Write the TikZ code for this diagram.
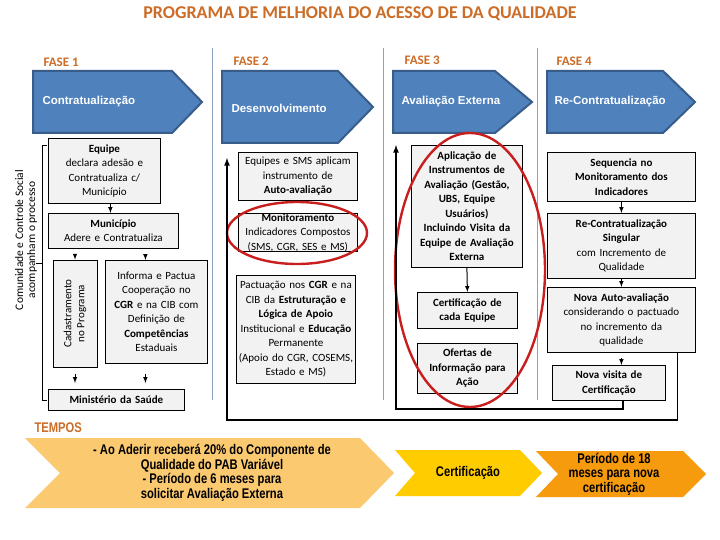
\documentclass[tikz,border=0pt]{standalone}
\usepackage{fontspec}
\setmainfont{Carlito}
\newfontfamily\arialf{Liberation Sans}
\newfontfamily\narrowf{Liberation Sans}[FakeStretch=0.8]

\definecolor{laranja}{RGB}{204,108,38}
\definecolor{azulfase}{RGB}{79,129,189}
\definecolor{azulborda}{RGB}{56,93,138}
\definecolor{cinza}{RGB}{242,242,242}
\definecolor{divisa}{RGB}{140,162,192}
\definecolor{vermelho}{RGB}{200,30,30}
\definecolor{tempoA}{RGB}{250,201,112}
\definecolor{tempoB}{RGB}{255,204,0}
\definecolor{tempoC}{RGB}{247,155,14}

\tikzset{
  caixa/.style 2 args={draw=black, fill=cinza, line width=0.8pt, anchor=north west,
    align=center, inner sep=0pt, minimum width=#1pt, minimum height=#2pt, text width=#1pt,
    font=\fontsize{11}{14.5}\selectfont},
  seta/.style={-latex, line width=1pt},
  laco/.style={-latex, line width=1.6pt},
  chevron/.style={fill=azulfase, draw=azulborda, line width=2pt, line join=miter},
  fasetxt/.style={anchor=west, text=white, font=\arialf\bfseries\fontsize{11.5}{13}\selectfont},
  rotulo/.style={anchor=west, text=laranja, font=\bfseries\fontsize{13}{15}\selectfont},
  elipse/.style={draw=vermelho, line width=2.4pt},
  tempotxt/.style={align=center, font=\narrowf\bfseries\fontsize{14}{14.5}\selectfont},
}

\begin{document}
\begin{tikzpicture}[x=1pt, y=-1pt]
\useasboundingbox[fill=white] (0,0) rectangle (720,540);
% titulo
\node[text=laranja, font=\bfseries\fontsize{18}{20}\selectfont] (tit) at (360,14) {PROGRAMA DE MELHORIA DO ACESSO DE DA QUALIDADE};
% divisas
\draw[divisa, line width=0.8pt] (212,48) -- (212,400);
\draw[divisa, line width=0.8pt] (383,48) -- (383,400);
\draw[divisa, line width=0.8pt] (537,48) -- (537,400);
% fases
\node[rotulo] (r1) at (40,62) {FASE 1};
\node[rotulo] (r2) at (230,61) {FASE 2};
\node[rotulo] (r3) at (401,60) {FASE 3};
\node[rotulo] (r4) at (553,61) {FASE 4};
\draw[chevron] (33,71) -- (172,71) -- (202,102) -- (172,133) -- (33,133) -- cycle;
\draw[chevron] (222,71) -- (338,71) -- (373,107) -- (338,143) -- (222,143) -- cycle;
\draw[chevron] (393,71) -- (495,71) -- (532,102) -- (495,133) -- (393,133) -- cycle;
\draw[chevron] (547,71) -- (663,71) -- (695,102) -- (663,133) -- (547,133) -- cycle;
\node[fasetxt] (f1) at (39,102) {Contratualização};
\node[fasetxt] (f2) at (228,108) {Desenvolvimento};
\node[fasetxt] (f3) at (398,102) {Avaliação Externa};
\node[fasetxt] (f4) at (551,102) {Re-Contratualização};
% fase 1
\draw[line width=0.8pt] (47,145) -- (42,145) -- (42,400) -- (47,400);
\draw[line width=0.8pt] (42,263) -- (36,263);
\node[rotate=90, align=center, font=\fontsize{11.5}{12}\selectfont] (soc) at (26,240) {Comunidade e Controle Social\\acompanham o processo};
\node[caixa={112}{65}] (eqp) at (48,138) {\textbf{Equipe}\\declara adesão e\\Contratualiza c/\\Município};
\node[caixa={130}{35}] (mun) at (48,213) {\textbf{Município}\\Adere e Contratualiza};
\node[caixa={102}{103}] (inf) at (105,260) {Informa e Pactua\\Cooperação no\\\textbf{CGR} e na CIB com\\Definição de\\\textbf{Competências}\\Estaduais};
\node[draw=black, fill=cinza, line width=0.8pt, rotate=90, align=center, inner sep=0pt,
  minimum width=107pt, minimum height=44pt, font=\fontsize{11}{13}\selectfont] (cad) at (75,313.5) {Cadastramento\\no Programa};
\node[caixa={136}{21}] (min) at (48,389) {\textbf{Ministério da Saúde}};
\draw[seta] ([xshift=6pt]eqp.south) -- ([xshift=6pt]eqp.south |- mun.north);
\draw[seta, shorten <=5pt] (cad.east |- mun.south) -- (cad.east);
\draw[seta, shorten <=5pt] ([xshift=-11pt]inf.north |- mun.south) -- ([xshift=-11pt]inf.north);
\draw[seta, shorten <=7pt, shorten >=6pt] (cad.west) -- (cad.west |- min.north);
\draw[seta, shorten <=10pt, shorten >=6pt] ([xshift=-11pt]inf.south) -- ([xshift=-11pt]inf.south |- min.north);
% fase 2
\node[caixa={119}{48}] (aut) at (238,152) {Equipes e SMS aplicam\\instrumento de\\\textbf{Auto-avaliação}};
\node[caixa={119}{37}] (mon) at (238,213) {\textbf{Monitoramento}\\Indicadores Compostos\\(SMS, CGR, SES e MS)};
\node[caixa={119}{108}] (pac) at (236,275) {Pactuação nos \textbf{CGR} e na\\CIB da \textbf{Estruturação e}\\\textbf{Lógica de Apoio}\\Institucional e \textbf{Educação}\\Permanente\\(Apoio do CGR, COSEMS,\\Estado e MS)};
\draw[elipse] (297,233) ellipse (70pt and 31pt);
% fase 3
\node[caixa={111}{122}, font=\bfseries\fontsize{11}{14.5}\selectfont] (apl) at (411,145) {Aplicação de\\Instrumentos de\\Avaliação (Gestão,\\UBS, Equipe\\Usuários)\\Incluindo Visita da\\Equipe de Avaliação\\Externa};
\node[caixa={100}{36}, font=\bfseries\fontsize{11}{14.5}\selectfont] (cer) at (417,292) {Certificação de\\cada Equipe};
\node[caixa={100}{50}, font=\bfseries\fontsize{11}{14.5}\selectfont] (ofe) at (417,343) {Ofertas de\\Informação para\\Ação};
\draw[seta] (apl.south) -- (cer.north);
\draw[elipse] (470,270) ellipse (75pt and 137pt);
% fase 4
\node[caixa={148}{49}, font=\bfseries\fontsize{11}{14.5}\selectfont] (seq) at (547,152) {Sequencia no\\Monitoramento dos\\Indicadores};
\node[caixa={148}{65}] (rec) at (547,213) {\textbf{Re-Contratualização}\\\textbf{Singular}\\com Incremento de\\Qualidade};
\node[caixa={148}{65}] (nav) at (547,287) {\textbf{Nova Auto-avaliação}\\considerando o pactuado\\no incremento da\\qualidade};
\node[caixa={113}{35}, font=\bfseries\fontsize{11}{14.5}\selectfont] (nvc) at (552,365) {Nova visita de\\Certificação};
\draw[seta] (seq.south) -- (rec.north);
\draw[seta] (rec.south) -- (nav.north);
\draw[seta, shorten <=5pt] (nav.south) -- (nav.south |- nvc.north);
% retornos
\coordinate (b3) at (396,409);
\coordinate (t3) at (396,145);
\coordinate (b2) at (227,420);
\coordinate (t2) at (227,158);
\draw[laco] ([xshift=14pt]nvc.south) |- (b3) -- (t3);
\draw[laco] ([xshift=56pt]nav.south) |- (b2) -- (t2);
% tempos
\node[anchor=west, text=laranja, font=\narrowf\bfseries\fontsize{14}{14}\selectfont] (tmp) at (31,428) {TEMPOS};
\fill[tempoA] (25,438) -- (360,438) -- (394,473) -- (360,508) -- (25,508) -- (60,473) -- cycle;
\fill[tempoB] (395,450) -- (520,450) -- (542,473) -- (520,496) -- (395,496) -- (415,473) -- cycle;
\fill[tempoC] (536,451) -- (683,451) -- (706,474) -- (683,497) -- (536,497) -- (558,474) -- cycle;
\node[tempotxt] (t1) at (212,473) {- Ao Aderir receberá 20\% do Componente de\\Qualidade do PAB Variável\\- Período de 6 meses para\\solicitar Avaliação Externa};
\node[tempotxt] (tc) at (468,473) {Certificação};
\node[tempotxt] (tp) at (614,474) {Período de 18\\meses para nova\\certificação};
\end{tikzpicture}
\end{document}
